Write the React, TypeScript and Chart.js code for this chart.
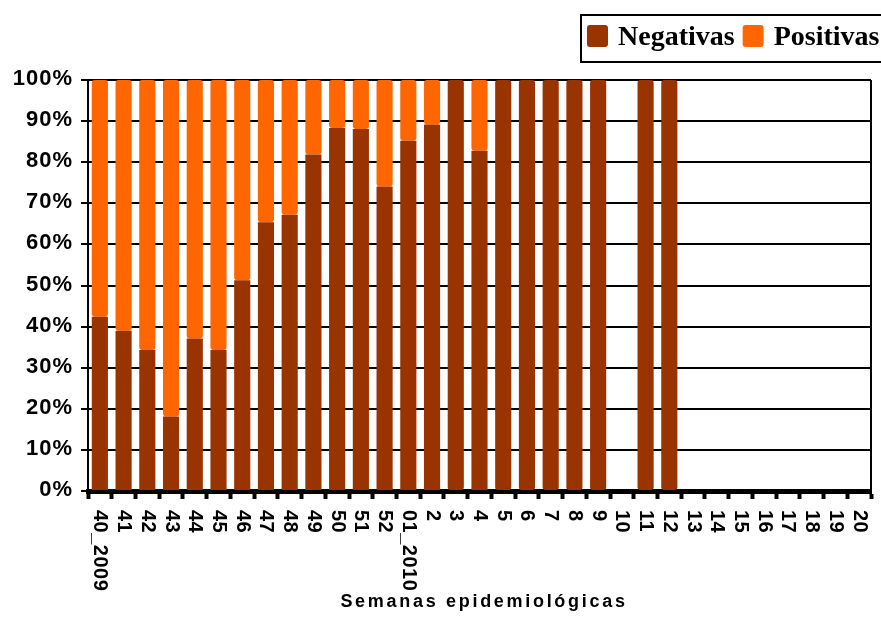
import React, { useEffect, useRef } from "react";
import { Chart, registerables } from "chart.js";

Chart.register(...registerables);

// Epidemiological weeks (2009 season into 2010)
const weeks = [
  "40_2009", "41", "42", "43", "44", "45", "46", "47", "48", "49", "50", "51", "52",
  "01_2010", "2", "3", "4", "5", "6", "7", "8", "9", "10", "11", "12",
  "13", "14", "15", "16", "17", "18", "19", "20",
];

// Share of negative samples per week (%)
const negativas = [
  42.4, 39, 34.3, 18.1, 37.1, 34.3, 51.3, 65.4, 67.2, 81.9, 88.3, 88.1, 74.1,
  85.2, 89.2, 100, 82.8, 100, 100, 100, 100, 100, null, 100, 100,
  null, null, null, null, null, null, null, null,
];

// Share of positive samples per week (%)
const positivas = [
  57.6, 61, 65.7, 81.9, 62.9, 65.7, 48.7, 34.6, 32.8, 18.1, 11.7, 11.9, 25.9,
  14.8, 10.8, 0, 17.2, 0, 0, 0, 0, 0, null, 0, 0,
  null, null, null, null, null, null, null, null,
];

const yTicks = [0, 10, 20, 30, 40, 50, 60, 70, 80, 90, 100];

const axisTitle = "Semanas epidemiológicas";

const SANS = '"Liberation Sans", Arial, sans-serif';
const SERIF = '"Liberation Serif", "Times New Roman", serif';

const textPlugin = {
  id: "textPlugin",
  afterDraw(chart: any) {
    const { ctx, chartArea, scales } = chart;
    ctx.save();

    // right frame of the plot
    ctx.strokeStyle = "#000";
    ctx.lineWidth = 2;
    ctx.beginPath();
    ctx.moveTo(chartArea.right, chartArea.top);
    ctx.lineTo(chartArea.right, chartArea.bottom);
    ctx.stroke();

    ctx.fillStyle = "#000";

    // y tick labels
    ctx.font = `bold 22px ${SANS}`;
    (ctx as any).letterSpacing = "1px";
    ctx.textAlign = "right";
    ctx.textBaseline = "middle";
    yTicks.forEach((v) => {
      ctx.fillText(`${v}%`, 73, scales.y.getPixelForValue(v) - 1);
    });

    // x tick labels, turned clockwise
    ctx.font = `bold 20px ${SANS}`;
    (ctx as any).letterSpacing = "0.5px";
    weeks.forEach((w, i) => {
      const x = scales.x.getPixelForValue(i);
      ctx.save();
      ctx.translate(x, 510);
      ctx.rotate(Math.PI / 2);
      ctx.textAlign = "left";
      ctx.textBaseline = "middle";
      ctx.fillText(w, 0, 0);
      ctx.restore();
    });

    // x axis title
    ctx.font = `bold 18px ${SANS}`;
    (ctx as any).letterSpacing = "2.7px";
    ctx.textAlign = "center";
    ctx.textBaseline = "alphabetic";
    ctx.fillText(axisTitle, 484, 607);

    // legend
    (ctx as any).letterSpacing = "0px";
    ctx.lineWidth = 2;
    ctx.strokeStyle = "#000";
    ctx.beginPath();
    ctx.moveTo(chart.width + 10, 15);
    ctx.lineTo(581, 15);
    ctx.lineTo(581, 62);
    ctx.lineTo(chart.width + 10, 62);
    ctx.stroke();
    ctx.font = `bold 28px ${SERIF}`;
    ctx.textAlign = "left";
    let x = 587;
    chart.data.datasets.forEach((ds: any) => {
      ctx.fillStyle = ds.backgroundColor;
      ctx.beginPath();
      (ctx as any).roundRect(x, 25, 21, 22, 3);
      ctx.fill();
      ctx.fillStyle = "#000";
      ctx.fillText(ds.label, x + 31, 45);
      x = x + 31 + ctx.measureText(ds.label).width + 8;
    });

    ctx.restore();
  },
};

export default function App() {
  const canvasRef = useRef<HTMLCanvasElement | null>(null);

  useEffect(() => {
    if (!canvasRef.current) return;
    const chart = new Chart(canvasRef.current, {
      type: "bar",
      data: {
        labels: weeks,
        datasets: [
          {
            label: "Negativas",
            data: negativas,
            backgroundColor: "#993300",
            borderRadius: 3,
            borderSkipped: false,
            categoryPercentage: 0.68,
            barPercentage: 1,
          },
          {
            label: "Positivas",
            data: positivas,
            backgroundColor: "#FF6600",
            borderRadius: 3,
            borderSkipped: false,
            categoryPercentage: 0.68,
            barPercentage: 1,
          },
        ],
      },
      options: {
        responsive: false,
        animation: false,
        layout: { padding: { left: 0, top: 80, right: 10, bottom: 0 } },
        plugins: {
          legend: { display: false },
          tooltip: { enabled: false },
          title: { display: false },
        },
        scales: {
          x: {
            stacked: true,
            z: 1,
            offset: true,
            ticks: { display: false },
            grid: {
              offset: true,
              drawOnChartArea: false,
              drawTicks: true,
              tickLength: 8,
              tickWidth: 4,
              tickColor: "#000",
            },
            border: { display: true, color: "#000", width: 5 },
            afterFit: (scale: any) => {
              scale.height = 129;
            },
          },
          y: {
            stacked: true,
            min: 0,
            max: 100,
            ticks: { display: false, stepSize: 10 },
            grid: {
              color: "#000",
              lineWidth: 2,
              drawTicks: true,
              tickLength: 7,
              tickColor: "#000",
            },
            border: { display: true, color: "#000", width: 2 },
            afterFit: (scale: any) => {
              scale.width = 88;
            },
          },
        },
      },
      plugins: [textPlugin],
    });
    return () => chart.destroy();
  }, []);

  return (
    <div style={{ position: "absolute", left: 0, top: 0, width: 881, height: 620, background: "#fff" }}>
      <canvas ref={canvasRef} width={881} height={620} style={{ display: "block" }} />
    </div>
  );
}
